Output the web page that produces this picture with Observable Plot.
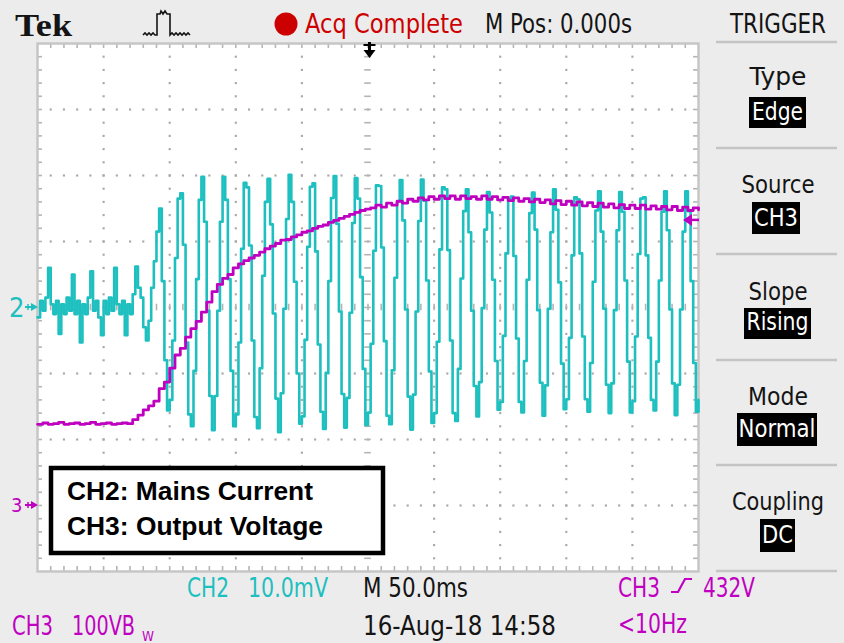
<!DOCTYPE html>
<html><head><meta charset="utf-8">
<script src="https://cdn.jsdelivr.net/npm/d3@7"></script>
<script src="https://cdn.jsdelivr.net/npm/@observablehq/plot@0.6"></script>
<style>html,body{margin:0;padding:0;background:#ececec;}#chart svg{display:block}</style>
</head><body><div id="chart"></div>
<script>
// ---------------- data ----------------
const timeStartMs = -250;          // left edge of record, trigger at 0 (M Pos 0.000s)
const timePerDivMs = 50;           // M 50.0ms
const ch2StepMs = 2;               // CH2 record spacing
const ch2ScaleMvPerDiv = 10;       // CH2 10.0mV
const ch2GroundDiv = 0;            // "2" marker position (divisions from centre)
const ch2_mV = [
 -1.5, 1.0, -0.5, 1.5, 6.0, 0.5, -1.0, 1.0, -4.0, 0.5,
 -1.0, 1.5, -0.5, 5.0, -1.0, 1.0, -5.3, 0.5, -1.0, 1.5,
 5.5, -0.5, 1.0, -1.5, -4.2, 1.0, -1.0, 1.5, -0.5, 6.0,
 0.5, -1.0, 1.0, -4.2, 0.5, -1.0, 2.0, 6.2, 3.0, 1.5,
 -3.0, -5.0, -2.0, 3.0, 7.0, 11.5, 15.0, 4.0, -8.0, -15.6,
 -14.0, -5.0, 7.5,
 16.5, 17.3, 9.5, -5.3, -16.2, -18.0, -9.6, 4.3, 16.3, 19.8, 13.0, -0.5, -13.4, -18.6, -13.4, -0.5, 13.0, 19.8, 16.3, 4.3, -9.6, -18.0, -16.2, -5.3, 8.9,
 18.9, 18.2, 9.4, -5.0, -16.6, -18.3, -9.2, 4.8, 16.0, 19.5, 12.6, -0.9, -13.8, -18.9, -13.0, -0.2, 13.4, 20.1, 16.0, 3.9, -10.0, -17.6, -16.5, -4.9, 9.2,
 18.3, 18.8, 8.5, -5.6, -15.8, -18.4, -9.9, 4.0, 16.6, 19.9, 12.7, -0.6, -13.1, -18.2, -13.7, -0.8, 12.8, 19.6, 16.5, 4.6, -9.3, -17.8, -15.9, -5.5, 8.6,
 18.5, 18.4, 9.1, -5.1, -16.4, -17.7, -9.5, 4.5, 16.1, 19.3, 13.2, -0.3, -13.5, -18.5, -13.2, -0.6, 13.1, 19.4, 16.2, 4.1, -9.7, -17.5, -16.0, -5.2, 8.8,
 18.2, 17.9, 8.7, -5.0, -16.0, -17.2, -9.3, 4.4, 14.6, 17.9, 11.4, -0.5, -11.9, -16.5, -11.3, -0.1, 11.8, 17.5, 14.4, 4.2, -8.1, -15.5, -14.3, -4.3, 8.2,
 16.4, 16.8, 7.8, -4.7, -14.3, -15.9, -8.1, 4.2, 14.3, 17.4, 11.8, -0.4, -11.4, -16.4, -11.8, -0.2, 11.4, 17.9, 14.8, 3.8, -8.5, -15.4, -13.9, -4.6, 7.9,
 16.7, 16.4, 8.2, -4.4, -13.9, -15.8, -8.4, 3.9, 14.7, 17.6, 11.5, -0.2, -11.7, -16.0, -11.5, -0.4, 11.7, 17.5, 14.5, 4.1, -8.2, -15.9, -14.2, -4.4, 8.1,
 16.5, 16.7, 7.9, -4.6, -14.0, -15.6, -8.2, 4.1, 14.5, 17.6, 11.7, -0.3, -11.5, -16.3, -11.7, -0.3, 11.5, 17.6, 14.6, 4.0, -8.4, -15.8, -14.0
];
const ch3StepMs = 4;
const ch3ScaleVPerDiv = 100;       // CH3 100V
const ch3GroundDiv = -3;           // "3" marker position
const ch3_V = [
 123,125,123,124,126,123,124,125,123,124,126,123,124,125,123,124,125,124,
 130,137,145,151,158,177,187,208,228,238,
 255,268,279,293,308,324,335,344,350,360,
 366,371,375,379,384,389,393,397,402,403,
 407,410,414,416,420,423,425,429,432,435,
 438,441,444,447,449,
 451,455,452,458,455,461,458,464,461,466,
 463,468,464,469,465,469,464,469,465,468,
 464,469,464,468,463,467,462,466,461,465,
 460,464,459,463,457,462,456,461,455,460,
 454,459,453,458,452,457,451,456,450,455,
 450,455,449,454,449,453,448,453,447,452,
 447,451,448
];
const triggerLevelV = 432;
const legendLines = ["CH2: Mains Current", "CH3: Output Voltage"];
const menuItems = [
  {label: "Type", value: "Edge"},
  {label: "Source", value: "CH3"},
  {label: "Slope", value: "Rising"},
  {label: "Mode", value: "Normal"},
  {label: "Coupling", value: "DC"}
];
// -----------------------------------------------------------------

const CYAN = "#1dbfbf", MAG = "#c000c0", RED = "#cc0000", INK = "#141414";
const SF = "'DejaVu Sans Condensed','DejaVu Sans',sans-serif";

const ch2 = ch2_mV.map((v, i) => ({t: timeStartMs + i * ch2StepMs, d: ch2GroundDiv + v / ch2ScaleMvPerDiv}));
const ch3 = ch3_V.map((v, i) => ({t: timeStartMs + i * ch3StepMs, d: ch3GroundDiv + v / ch3ScaleVPerDiv}));

// graticule (10 x 8 divisions, 5 minor per division)
const xMin = -5 * timePerDivMs, xMax = 5 * timePerDivMs;
const minorX = d3.range(-25, 26).map(k => k * timePerDivMs / 5);
const minorY = d3.range(-20, 21).map(k => k / 5);
const majorX = d3.range(-4, 5).filter(k => k !== 0).map(k => k * timePerDivMs);
const majorY = d3.range(-3, 4).filter(k => k !== 0);
const gratDots = [];
for (const x of majorX) for (const y of minorY.slice(1, -1)) gratDots.push({x, y});
for (const y of majorY) for (const x of minorX.slice(1, -1)) gratDots.push({x, y});
const edgeX = minorX.slice(1, -1), edgeY = minorY.slice(1, -1);
const tl = 0.075, tlx = 0.075 * timePerDivMs;
const G = "#b4b4b4";

const chart = Plot.plot({
  width: 844, height: 643,
  marginLeft: 37, marginRight: 146, marginTop: 43, marginBottom: 72,
  x: {domain: [xMin, xMax], axis: null},
  y: {domain: [-4, 4], axis: null},
  style: {background: "#ececec", overflow: "visible"},
  marks: [
    Plot.frame({fill: "#ffffff", stroke: null}),
    Plot.dot(gratDots, {x: "x", y: "y", r: 1.2, symbol: "square", fill: "#a8a8a8", stroke: null}),
    Plot.ruleX(edgeX, {x: d => d, y1: 4, y2: 4 - tl, stroke: G, strokeWidth: 1.6}),
    Plot.ruleX(edgeX, {x: d => d, y1: -4, y2: -4 + tl, stroke: G, strokeWidth: 1.6}),
    Plot.ruleY(edgeY, {y: d => d, x1: xMin, x2: xMin + tlx, stroke: G, strokeWidth: 1.6}),
    Plot.ruleY(edgeY, {y: d => d, x1: xMax, x2: xMax - tlx, stroke: G, strokeWidth: 1.6}),
    Plot.ruleX(edgeX, {x: d => d, y1: -0.05, y2: 0.05, stroke: G, strokeWidth: 1.6}),
    Plot.ruleY(edgeY, {y: d => d, x1: -0.05 * timePerDivMs, x2: 0.05 * timePerDivMs, stroke: G, strokeWidth: 1.6}),
    Plot.frame({stroke: "#c6c6c6", strokeWidth: 2.5}),
    Plot.line(ch2, {x: "t", y: "d", stroke: CYAN, strokeWidth: 2.6, curve: "step-after"}),
    Plot.line(ch3, {x: "t", y: "d", stroke: MAG, strokeWidth: 2.8, curve: "step-after"})
  ]
});
document.getElementById("chart").appendChild(chart);

const xs = chart.scale("x"), ys = chart.scale("y");
const svg = d3.select(chart);
const g = svg.append("g").attr("text-anchor", "start");
function T(x, y, s, o = {}) {
  const e = g.append("text").attr("x", x).attr("y", y).text(s)
    .attr("font-family", o.ff || SF).attr("font-size", o.fs || 26)
    .attr("fill", o.fill || INK)
    .attr("text-anchor", o.anchor || "start");
  if (o.w) e.attr("textLength", o.w).attr("lengthAdjust", "spacingAndGlyphs");
  if (o.weight) e.attr("font-weight", o.weight);
  return e;
}

// header
T(15, 36, "Tek", {ff: "'Liberation Serif','DejaVu Serif',serif", fs: 32, weight: "bold", w: 57});
g.append("path").attr("fill", "none").attr("stroke", INK).attr("stroke-width", 1.6)
  .attr("d", "M143,35 l2,-2 l2,2 l2,-2 l2,2 l2,-2 l2,2 L157,35 L157,14 L160,14 L161,11 L163,14 L165,11 L167,14 L170,14 L170,35 l2,-2 l2,2 l2,-2 l2,2 l2,-2 l2,2 l2,-2 l2,2 l2,-2 L190,35");
g.append("circle").attr("cx", 286).attr("cy", 24).attr("r", 11.5).attr("fill", RED);
T(305, 33, "Acq Complete", {fill: RED, fs: 27, w: 158});
T(485, 33, "M Pos: 0.000s", {fs: 27, w: 147});
T(730, 33, "TRIGGER", {fs: 27, w: 96});

// trigger menu
[42, 148, 254, 360, 465, 571].forEach(y =>
  g.append("line").attr("x1", 716).attr("x2", 837).attr("y1", y).attr("y2", y)
   .attr("stroke", "#c4c4c4").attr("stroke-width", 2.5));
const labelPos = [[85, 57], [193, 73], [300, 59], [405, 60], [510, 92]];
const boxPos = [[749, 97, 57, 31, 120, 51], [752, 202, 48, 32, 226, 44], [744, 308, 67, 31, 330, 62], [737, 413, 80, 33, 437, 77], [760, 519, 35, 33, 543, 31]];
menuItems.forEach((m, i) => {
  T(778, labelPos[i][0], m.label, {fs: 25, w: labelPos[i][1], anchor: "middle"});
  const [bx, by, bw, bh, bl, tw] = boxPos[i];
  g.append("rect").attr("x", bx).attr("y", by).attr("width", bw).attr("height", bh).attr("fill", "#000");
  T(bx + bw / 2, bl, m.value, {fs: 25, w: tw, anchor: "middle", fill: "#fff"});
});

// channel ground markers
function marker(y, color, label, fs, lx) {
  T(lx, y + fs * 0.36, label, {fs, fill: color});
  g.append("line").attr("x1", 25).attr("x2", 34).attr("y1", y).attr("y2", y).attr("stroke", color).attr("stroke-width", 2);
  g.append("line").attr("x1", 28).attr("x2", 28).attr("y1", y - 3).attr("y2", y + 3).attr("stroke", color).attr("stroke-width", 1.5);
  g.append("path").attr("d", `M31,${y - 4} L38,${y} L31,${y + 4} Z`).attr("fill", color);
}
marker(ys.apply(ch2GroundDiv), CYAN, "2", 27, 9);
marker(ys.apply(ch3GroundDiv), MAG, "3", 20, 11);

// trigger level (right) and trigger position (top)
const ty = ys.apply(triggerLevelV / ch3ScaleVPerDiv + ch3GroundDiv);
g.append("line").attr("x1", 688).attr("x2", 699).attr("y1", ty).attr("y2", ty).attr("stroke", MAG).attr("stroke-width", 2.5);
g.append("path").attr("d", `M683,${ty} L692,${ty - 6} L692,${ty + 6} Z`).attr("fill", MAG);
const tx = xs.apply(0) + 2;
g.append("line").attr("x1", tx).attr("x2", tx).attr("y1", 42).attr("y2", 52).attr("stroke", "#000").attr("stroke-width", 3);
g.append("line").attr("x1", tx - 6).attr("x2", tx + 6).attr("y1", 45).attr("y2", 45).attr("stroke", "#000").attr("stroke-width", 2);
g.append("path").attr("d", `M${tx - 6},50 L${tx + 6},50 L${tx},58 Z`).attr("fill", "#000");

// legend box
g.append("rect").attr("x", 51).attr("y", 468).attr("width", 332).attr("height", 85)
  .attr("fill", "#fff").attr("stroke", "#000").attr("stroke-width", 4.5);
T(67, 500, legendLines[0], {ff: "'Liberation Sans',Arial,sans-serif", fs: 26, weight: "bold", w: 246, fill: "#000"});
T(67, 535, legendLines[1], {ff: "'Liberation Sans',Arial,sans-serif", fs: 26, weight: "bold", w: 256, fill: "#000"});

// bottom status lines
T(187, 597, "CH2", {fill: CYAN, w: 42});
T(248, 597, "10.0mV", {fill: CYAN, w: 80});
T(363, 597, "M 50.0ms", {w: 105});
T(618, 597, "CH3", {fill: MAG, w: 42});
g.append("path").attr("fill", "none").attr("stroke", MAG).attr("stroke-width", 2.2)
  .attr("d", "M671,592 L678,592 L685,579 L692,579");
T(703, 597, "432V", {fill: MAG, w: 52});
T(12, 635, "CH3", {fill: MAG, w: 41});
T(72, 635, "100VB", {fill: MAG, w: 63});
T(142, 641, "W", {fill: MAG, fs: 14, w: 12});
T(363, 635, "16-Aug-18 14:58", {w: 193});
T(618, 633, "<10Hz", {fill: MAG, w: 69});
</script>
</body></html>
